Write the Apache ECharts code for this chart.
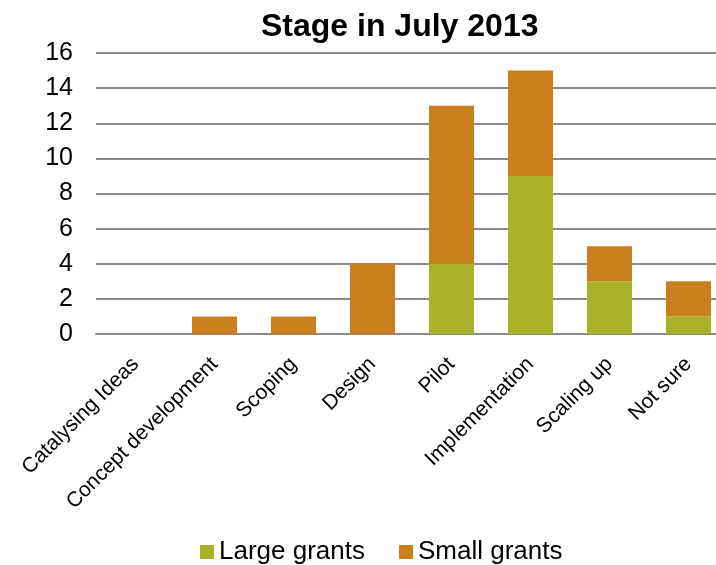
<!DOCTYPE html>
<html lang="en">

<head>
    <meta charset="UTF-8">
    <title>Stage in July 2013</title>
    <style>
        * {
            margin: 0;
            padding: 0;
        }

        html,
        body {
            width: 716px;
            height: 565px;
            background: #fff;
        }

        .box {
            width: 716px;
            height: 565px;
        }
    </style>
</head>

<body>
    <div class="box"></div>
</body>
<script src="https://cdn.jsdelivr.net/npm/echarts@6/dist/echarts.min.js"></script>
<script>
    // data
    var categories = ['Catalysing Ideas', 'Concept development', 'Scoping', 'Design', 'Pilot', 'Implementation', 'Scaling up', 'Not sure']
    var largeGrants = [0, 0, 0, 0, 4, 9, 3, 1]
    var smallGrants = [0, 1, 1, 4, 9, 6, 2, 2]

    var font = 'Arial, "Liberation Sans", sans-serif'

    let chart = echarts.init(document.querySelector('.box'))

    const option = {
        animation: false,
        title: {
            text: 'Stage in July 2013',
            left: 256,
            top: 6,
            textStyle: {
                fontFamily: font,
                fontSize: 32,
                fontWeight: 'bold',
                color: '#000'
            }
        },
        legend: {
            left: 200,
            top: 539,
            padding: 0,
            icon: 'rect',
            itemWidth: 14,
            itemHeight: 14,
            itemGap: 34,
            textStyle: {
                fontFamily: font,
                fontSize: 26,
                color: '#000'
            },
            data: ['Large grants', 'Small grants']
        },
        // the plot runs past the right edge, as in the cropped original
        grid: {
            left: 96,
            width: 632,
            top: 53,
            bottom: 231,
            containLabel: false,
            outerBoundsMode: 'none'
        },
        xAxis: {
            type: 'category',
            data: categories,
            axisTick: { show: false },
            axisLine: {
                lineStyle: { color: '#8a8a8a', width: 2 }
            },
            axisLabel: {
                rotate: 45,
                margin: 27,
                interval: 0,
                fontFamily: font,
                fontSize: 21,
                color: '#000'
            }
        },
        yAxis: {
            type: 'value',
            min: 0,
            max: 16,
            interval: 2,
            axisLine: { show: false },
            axisTick: { show: false },
            splitLine: {
                lineStyle: { color: '#8a8a8a', width: 2 }
            },
            axisLabel: {
                margin: 23,
                fontFamily: font,
                fontSize: 25,
                color: '#000'
            }
        },
        series: [{
            name: 'Large grants',
            type: 'bar',
            stack: 'grants',
            barWidth: 45,
            itemStyle: {
                color: '#a9b127'
            },
            data: largeGrants
        }, {
            name: 'Small grants',
            type: 'bar',
            stack: 'grants',
            barWidth: 45,
            itemStyle: {
                color: '#c9801c'
            },
            data: smallGrants
        }]
    }
    chart.setOption(option)
</script>

</html>
